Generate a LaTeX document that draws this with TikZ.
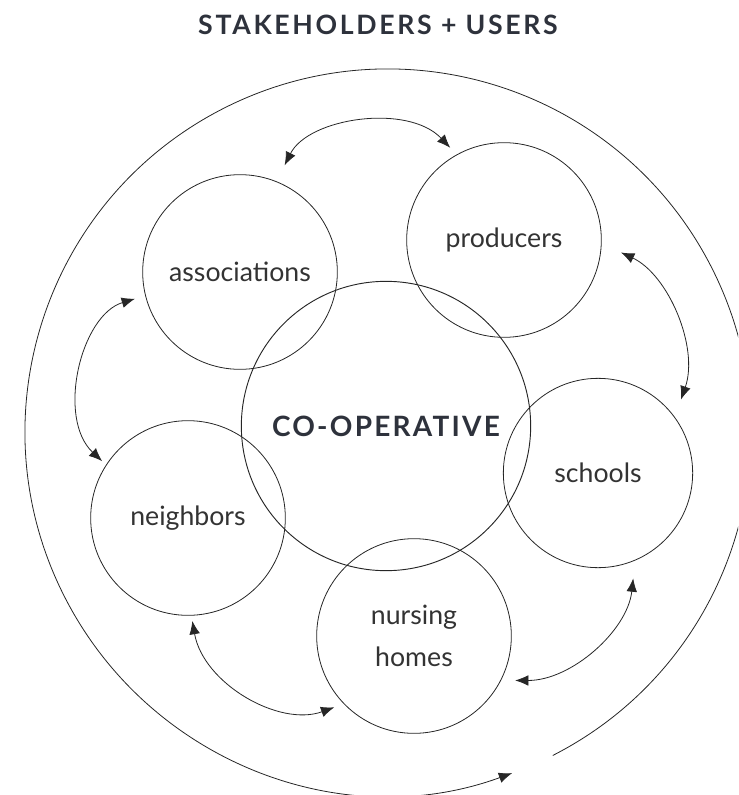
\documentclass[tikz,border=0pt]{standalone}
\usepackage{fontspec}
\setmainfont{Lato}
\usetikzlibrary{arrows.meta,positioning}
\definecolor{ink}{RGB}{46,50,60}

\begin{document}
\begin{tikzpicture}[x=0.75pt,y=0.75pt,
  member/.style={circle,draw=black!85,line width=0.6pt,minimum size=146pt,inner sep=0pt,font=\fontsize{20}{24}\selectfont,text=black!80},
  link/.style={{Latex[length=10pt,width=8pt]}-{Latex[length=10pt,width=8pt]},line width=0.6pt,draw=black!85}]
  \useasboundingbox (0,0) rectangle (738,-795);
  \clip (0,0) rectangle (738,-795);
  \node[font=\bfseries\fontsize{20}{24}\selectfont\addfontfeatures{LetterSpace=10},text=ink] (title) at (378,-25) {STAKEHOLDERS + USERS};
  \node[circle,draw=black!85,line width=0.7pt,minimum size=217pt,font=\bfseries\fontsize{21}{25}\selectfont\addfontfeatures{LetterSpace=8},text=ink] (coop) at (386,-426) {CO-OPERATIVE};
  \node[member] (assoc) at (240,-272) {associations};
  \node[member] (prod) at (504,-240) {producers};
  \node[member,minimum size=142pt] (school) at (598,-473) {schools};
  \node[member] (neigh) at (188,-518) {neighbors};
  \node[member,align=center] (nursing) at (414,-636) {nursing\\[8pt]homes};
  \coordinate (hub) at (388,-432);
  \draw[link,shorten <=13.5pt,shorten >=7pt] (assoc.68) to[bend left=55] (prod.119);
  \draw[link,shorten <=16pt,shorten >=14pt] (prod.-2) to[bend left=42] (school.36);
  \draw[link,shorten <=8pt,shorten >=4pt] (assoc.194) to[bend right=60] (neigh.147);
  \draw[link,shorten <=4pt,shorten >=7.5pt] (neigh.-88) to[bend right=50] (nursing.224);
  \draw[link,shorten <=10.5pt,shorten >=13.5pt] (nursing.-27) to[bend right=42] (school.-67);
  \draw[line width=0.6pt,draw=black!85,-{Latex[length=10pt,width=8pt]}] (hub) ++(-63:363) arc[start angle=-63,end angle=290,radius=363];
\end{tikzpicture}
\end{document}
